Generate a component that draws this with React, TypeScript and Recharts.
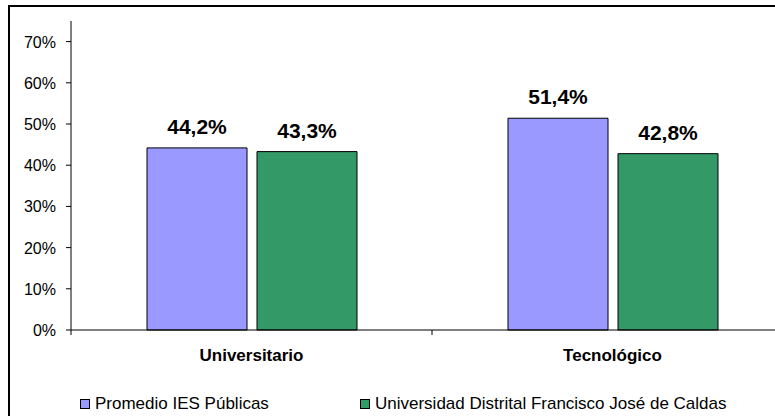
import React from 'react';
import { BarChart, Bar, XAxis, YAxis, Legend, LabelList } from 'recharts';

const categories = ['Universitario', 'Tecnológico'];
const promedioIES = [44.2, 51.4];
const udistrital = [43.3, 42.8];
const yTicks = [0, 10, 20, 30, 40, 50, 60, 70];

const seriesNames = ['Promedio IES Públicas', 'Universidad Distrital Francisco José de Caldas'];
const seriesColors = ['#9999FF', '#339966'];

const data = categories.map((name, i) => ({
  name,
  promedio: promedioIES[i],
  distrital: udistrital[i],
}));

const FONT = '"Liberation Sans", Arial, sans-serif';

const fmtValue = (v: any) => `${Number(v).toFixed(1).replace('.', ',')}%`;

// category label plus the tick marks at the category edges (Excel style)
const CategoryTick = (props: any) => {
  const { x, y, payload, index, visibleTicksCount } = props;
  const half = payload?.offset ?? 0;
  return (
    <g>
      <line x1={x - half} y1={y} x2={x - half} y2={y + 5} stroke="#000" />
      {index === visibleTicksCount - 1 && (
        <line x1={x + half} y1={y} x2={x + half} y2={y + 5} stroke="#000" />
      )}
      <text
        x={x}
        y={y + 31}
        textAnchor="middle"
        fontFamily={FONT}
        fontSize={17}
        fontWeight="bold"
        fill="#000"
      >
        {payload.value}
      </text>
    </g>
  );
};

const PercentTick = (props: any) => {
  const { x, y, payload } = props;
  return (
    <text x={x} y={y + 6} textAnchor="end" fontFamily={FONT} fontSize={16} fill="#000">
      {`${payload.value}%`}
    </text>
  );
};

const LegendContent = () => (
  <div style={{ display: 'flex', paddingLeft: 80, fontFamily: FONT, fontSize: 17, color: '#000' }}>
    {seriesNames.map((n, i) => (
      <div
        key={n}
        style={{ width: 280, flexShrink: 0, display: 'flex', alignItems: 'center', whiteSpace: 'nowrap' }}
      >
        <span
          style={{
            display: 'inline-block',
            flexShrink: 0,
            width: 8,
            height: 8,
            background: seriesColors[i],
            border: '1px solid #000',
            marginRight: 5,
          }}
        />
        <span>{n}</span>
      </div>
    ))}
  </div>
);

export default function App() {
  return (
    <div
      style={{
        position: 'absolute',
        left: 0,
        top: 0,
        width: 775,
        height: 416,
        overflow: 'hidden',
        background: '#fff',
      }}
    >
      <div
        style={{
          position: 'absolute',
          left: 8,
          top: 5,
          width: 900,
          height: 500,
          borderTop: '2px solid #000',
          borderLeft: '2px solid #000',
        }}
      />
      <div style={{ position: 'absolute', left: 0, top: 0 }}>
        <BarChart
          width={820}
          height={416}
          data={data}
          margin={{ top: 21, right: 27, left: 0, bottom: 0 }}
          barSize={100}
          barGap={10}
        >
          <XAxis
            dataKey="name"
            interval={0}
            height={86}
            tickLine={false}
            tickSize={0}
            tickMargin={0}
            axisLine={{ stroke: '#000' }}
            tick={<CategoryTick />}
          />
          <YAxis
            width={71}
            domain={[0, 75]}
            ticks={yTicks}
            interval={0}
            axisLine={{ stroke: '#000' }}
            tickLine={{ stroke: '#000' }}
            tickSize={5}
            tickMargin={10}
            tick={<PercentTick />}
          />
          <Legend
            layout="horizontal"
            verticalAlign="middle"
            align="center"
            wrapperStyle={{ top: 394, left: 0, width: 775, height: 20 }}
            content={<LegendContent />}
          />
          <Bar
            dataKey="promedio"
            name={seriesNames[0]}
            fill={seriesColors[0]}
            stroke="#000"
            strokeWidth={1}
            isAnimationActive={false}
          >
            <LabelList
              dataKey="promedio"
              position="top"
              offset={14}
              formatter={fmtValue}
              style={{ fill: '#000', fontSize: 21, fontWeight: 'bold', fontFamily: FONT }}
            />
          </Bar>
          <Bar
            dataKey="distrital"
            name={seriesNames[1]}
            fill={seriesColors[1]}
            stroke="#000"
            strokeWidth={1}
            isAnimationActive={false}
          >
            <LabelList
              dataKey="distrital"
              position="top"
              offset={14}
              formatter={fmtValue}
              style={{ fill: '#000', fontSize: 21, fontWeight: 'bold', fontFamily: FONT }}
            />
          </Bar>
        </BarChart>
      </div>
    </div>
  );
}
